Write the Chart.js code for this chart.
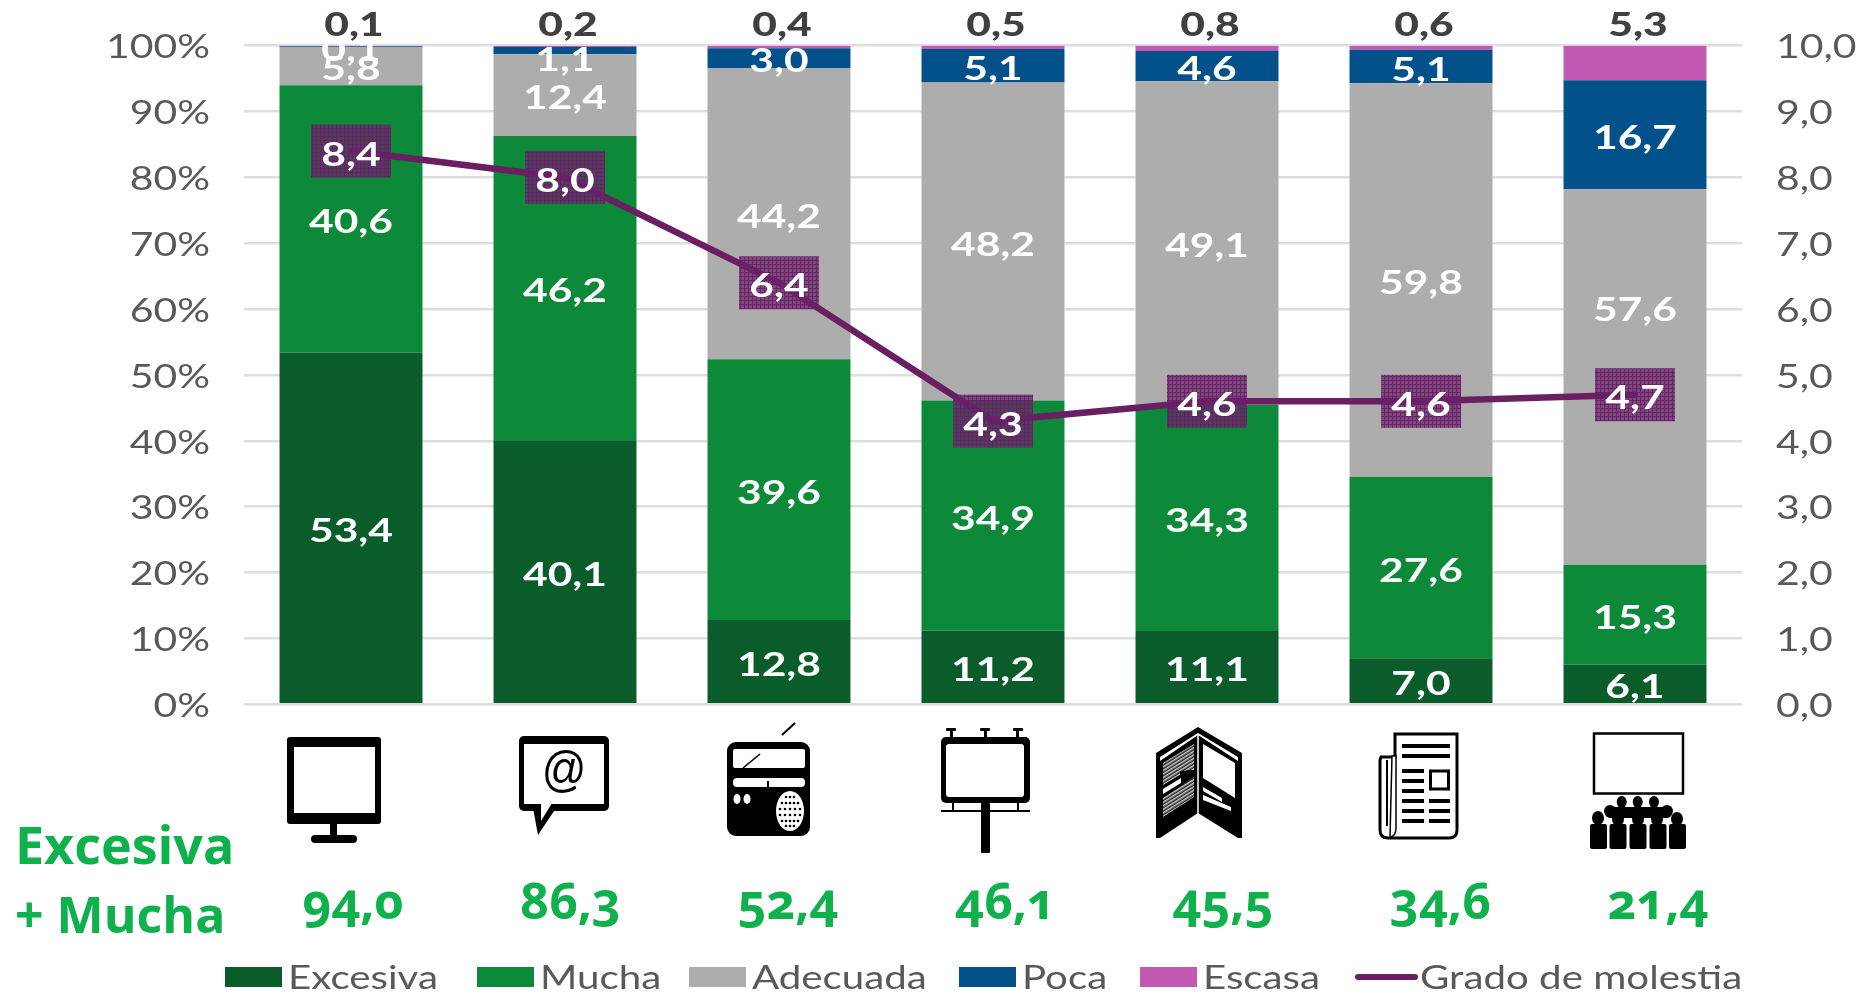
<!DOCTYPE html>
<html lang="es"><head><meta charset="utf-8">
<style>
html,body{margin:0;padding:0;background:#fff;width:1872px;height:995px;overflow:hidden}
#wrap{position:relative;width:1872px;height:995px}
canvas{position:absolute;left:0;top:0}
svg{position:absolute;left:0;top:0}
.g{position:absolute;color:#0fb14d;font-family:"Open Sans";font-weight:700;white-space:nowrap;transform-origin:0 0}
.v{font-size:50px;font-feature-settings:"onum" 1;font-variant-numeric:oldstyle-nums;text-align:center;width:160px;transform-origin:50% 0}
</style></head><body>
<div id="wrap">
<canvas id="c" width="1872" height="995"></canvas>
<svg width="1872" height="995" viewBox="0 0 1872 995">
 <!-- monitor -->
 <rect x="287" y="737" width="94" height="87" rx="3" fill="#000"/><rect x="294" y="747" width="81" height="66" fill="#fff"/>
 <rect x="330" y="823" width="7" height="13" fill="#000"/><rect x="311" y="835" width="46" height="8" rx="4" fill="#000"/>
 <!-- e-mail -->
 <rect x="519" y="736" width="90" height="75" rx="5" fill="#000"/><rect x="524" y="744" width="80" height="60" fill="#fff"/>
 <path d="M533 808 L556 808 L538 835 Z" fill="#000"/><path d="M541 803 H552 L541 821 Z" fill="#fff"/>
 <text x="0" y="0" transform="translate(564 786) scale(1 1.15)" font-family="Liberation Sans" font-size="44" text-anchor="middle" fill="#000">@</text>
 <!-- radio -->
 <line x1="782" y1="735" x2="795" y2="723" stroke="#000" stroke-width="2"/>
 <rect x="727" y="742" width="83" height="94" rx="9" fill="#000"/>
 <rect x="733" y="749" width="72" height="19" rx="2" fill="#fff"/><line x1="743" y1="768" x2="760" y2="754" stroke="#000" stroke-width="1.5"/>
 <rect x="733" y="778" width="72" height="9" rx="4" fill="#fff"/><rect x="767" y="781" width="2" height="6" fill="#000"/>
 <ellipse cx="737" cy="799" rx="3.5" ry="5" fill="#fff"/><ellipse cx="747" cy="799" rx="3.5" ry="5" fill="#fff"/>
 <ellipse cx="790" cy="811" rx="14" ry="20" fill="#fff"/>
 <g fill="#000"><circle cx="786" cy="797" r="1.3"/><circle cx="790" cy="797" r="1.3"/><circle cx="794" cy="797" r="1.3"/>
 <circle cx="782" cy="803" r="1.3"/><circle cx="786" cy="803" r="1.3"/><circle cx="790" cy="803" r="1.3"/><circle cx="794" cy="803" r="1.3"/><circle cx="798" cy="803" r="1.3"/>
 <circle cx="780" cy="809" r="1.3"/><circle cx="785" cy="809" r="1.3"/><circle cx="790" cy="809" r="1.3"/><circle cx="795" cy="809" r="1.3"/><circle cx="800" cy="809" r="1.3"/>
 <circle cx="780" cy="815" r="1.3"/><circle cx="785" cy="815" r="1.3"/><circle cx="790" cy="815" r="1.3"/><circle cx="795" cy="815" r="1.3"/><circle cx="800" cy="815" r="1.3"/>
 <circle cx="782" cy="821" r="1.3"/><circle cx="786" cy="821" r="1.3"/><circle cx="790" cy="821" r="1.3"/><circle cx="794" cy="821" r="1.3"/><circle cx="798" cy="821" r="1.3"/>
 <circle cx="786" cy="826" r="1.3"/><circle cx="790" cy="826" r="1.3"/><circle cx="794" cy="826" r="1.3"/></g>
 <!-- billboard -->
 <g fill="#000"><rect x="946" y="728" width="10" height="3" rx="1"/><rect x="980" y="728" width="10" height="3" rx="1"/><rect x="1013" y="728" width="10" height="3" rx="1"/>
 <rect x="950" y="730" width="3" height="8"/><rect x="984" y="730" width="3" height="8"/><rect x="1016" y="730" width="3" height="8"/>
 <rect x="941" y="737" width="89" height="66" rx="5"/><rect x="981" y="803" width="9" height="50" rx="1"/><rect x="941" y="810" width="89" height="2"/>
 <rect x="952" y="803" width="2" height="8"/><rect x="1017" y="803" width="2" height="8"/></g>
 <rect x="946" y="744" width="78" height="53" rx="3" fill="#fff"/>
 <!-- leaflet -->
 <defs><pattern id="h" width="3" height="3" patternUnits="userSpaceOnUse" patternTransform="rotate(-32)"><rect width="3" height="3" fill="#222"/><rect width="3" height="1.5" fill="#ccc"/></pattern></defs>
 <path d="M1198 727 L1242 753 V838 L1238 838 V757 L1198 733 L1160 757 V838 H1156 V753 Z" fill="#000"/>
 <path d="M1160 761 L1198 735 L1238 761 V838 L1198 813 L1160 838 Z" fill="#000"/>
 <line x1="1198" y1="734" x2="1198" y2="815" stroke="#fff" stroke-width="1.5"/>
 <path d="M1163 763 L1194 744 V770 L1180 771 V775 L1163 785 Z" fill="url(#h)"/>
 <path d="M1163 789 L1181 778 V783 L1163 794 Z" fill="#fff"/>
 <path d="M1163 798 L1194 777 V797 L1163 817 Z" fill="url(#h)"/>
 <path d="M1203 744 L1235 763 V798 L1203 778 Z" fill="#fff"/>
 <path d="M1203 787 L1222 798 V802 L1203 791 Z M1203 795 L1231 807 V811 L1203 800 Z" fill="#fff"/>
 <!-- newspaper -->
 <path d="M1381 757 H1395 V734 H1457 V830 Q1457 838 1449 838 H1388 Q1380 838 1380 830 V760 Z" fill="#fff" stroke="#000" stroke-width="3"/>
 <line x1="1387" y1="760" x2="1387" y2="826" stroke="#000" stroke-width="2"/><path d="M1392 756 H1396 V828 Q1396 836 1390 837 Z" fill="#fff" stroke="#000" stroke-width="1.5"/>
 <g fill="#000"><rect x="1402" y="744" width="48" height="4"/><rect x="1402" y="754" width="48" height="4"/>
 <rect x="1402" y="769" width="22" height="4"/><rect x="1402" y="779" width="22" height="4"/><rect x="1402" y="789" width="22" height="4"/>
 <rect x="1402" y="799" width="22" height="4"/><rect x="1402" y="809" width="22" height="4"/><rect x="1402" y="819" width="22" height="4"/>
 <rect x="1429" y="799" width="21" height="4"/><rect x="1429" y="809" width="21" height="4"/><rect x="1429" y="819" width="21" height="4"/></g>
 <rect x="1430.5" y="771" width="18" height="18" fill="none" stroke="#000" stroke-width="3"/>
 <!-- cinema -->
 <rect x="1594" y="733.5" width="89" height="60" fill="#fff" stroke="#000" stroke-width="2.5"/>
 <g fill="#000"><ellipse cx="1621.7" cy="802" rx="5" ry="6"/><ellipse cx="1637.7" cy="802" rx="5" ry="6"/><ellipse cx="1654" cy="802" rx="5" ry="6"/>
 <rect x="1605" y="807" width="67" height="11" rx="5"/><ellipse cx="1610" cy="811" rx="6" ry="6"/><ellipse cx="1667" cy="811" rx="6" ry="6"/>
 <ellipse cx="1598" cy="818" rx="6" ry="7"/><ellipse cx="1618" cy="819" rx="6" ry="7"/><ellipse cx="1638" cy="819" rx="6" ry="7"/><ellipse cx="1657" cy="819" rx="6" ry="7"/><ellipse cx="1677" cy="819" rx="6" ry="7"/>
 <rect x="1590" y="824" width="17" height="25" rx="2"/><rect x="1609.5" y="824" width="17" height="25" rx="2"/><rect x="1629.5" y="824" width="17" height="25" rx="2"/><rect x="1649.5" y="824" width="17" height="25" rx="2"/><rect x="1669" y="824" width="17" height="25" rx="2"/></g>
</svg>
<div class="g" style="left:15px;top:808px;font-size:52px;line-height:72px">Excesiva</div>
<div class="g" style="left:15px;top:878px;font-size:50px;line-height:72px">+ Mucha</div>
<div id="vals"></div>
</div>
<script src="https://cdn.jsdelivr.net/npm/chart.js@4"></script>
<script>
const categories = ["Televisión","Internet","Radio","Vallas","Folletos","Prensa","Cine"];
const excesiva = [53.4,40.1,12.8,11.2,11.1,7.0,6.1];
const mucha    = [40.6,46.2,39.6,34.9,34.3,27.6,15.3];
const adecuada = [5.8,12.4,44.2,48.2,49.1,59.8,57.6];
const poca     = [0.1,1.1,3.0,5.1,4.6,5.1,16.7];
const escasa   = [0.1,0.2,0.4,0.5,0.8,0.6,5.3];
const grado    = [8.4,8.0,6.4,4.3,4.6,4.6,4.7];
const excesivaMucha = [94.0,86.3,52.4,46.1,45.5,34.6,21.4];
const leftTicks = [0,10,20,30,40,50,60,70,80,90,100];

const comma = v => v.toFixed(1).replace('.',',');
const totals = categories.map((_,i)=>excesiva[i]+mucha[i]+adecuada[i]+poca[i]+escasa[i]);
const pct = arr => arr.map((v,i)=>v/totals[i]*100);

// green totals under the icons
const vals=document.getElementById('vals');
excesivaMucha.forEach((v,i)=>{
  const d=document.createElement('div');d.className='g v';d.textContent=comma(v);
  d.style.left=(353+217.5*i-80)+'px';d.style.top='866px';vals.appendChild(d);
});

const canvas=document.getElementById('c');
const ctx=canvas.getContext('2d');
// source image text is horizontally stretched
let stretch=1.24;
const rawFill=ctx.fillText.bind(ctx);
ctx.fillText=function(t,x,y){ctx.save();ctx.translate(x,y);ctx.scale(stretch,1);rawFill(t,0,0);ctx.restore();};

const FONT='Lato';
const TXT='#595959';
const hatch=(()=>{const p=document.createElement('canvas');p.width=p.height=4;const c=p.getContext('2d');
  c.fillStyle='rgba(95,40,100,0.72)';c.fillRect(0,0,4,4);
  c.fillStyle='rgba(115,25,110,0.9)';c.fillRect(0,0,4,1);c.fillRect(0,0,1,4);return ctx.createPattern(p,'repeat');})();

const legendItems=[
 {x:225,k:'box'},{x:477,k:'box'},{x:689,k:'box'},{x:959,k:'box'},{x:1140,k:'box'},{x:1355,k:'line'}];

const labelsPlugin={id:'labels',
 afterDatasetsDraw(ch){
  const c=ch.ctx;c.save();c.textAlign='center';c.textBaseline='middle';
  stretch=1.29;
  const lm=ch.getDatasetMeta(5);
  lm.data.forEach(pt=>{c.fillStyle=hatch;c.fillRect(pt.x-40,pt.y-26.5,80,53);});
  c.font='700 33px '+FONT;c.fillStyle='#fff';
  [excesiva,mucha,adecuada,poca].forEach((arr,d)=>{
    ch.getDatasetMeta(d).data.forEach((el,i)=>{
      let nudge=3.5;
      if(d===3&&i===1) nudge=9.5;      // label pushed below its thin segment
      if(d===2&&i===6) nudge=-67;      // label moved above the line box
      c.fillText(comma(arr[i]),el.x,(el.y+el.base)/2+nudge);
    });
  });
  lm.data.forEach((pt,i)=>c.fillText(comma(grado[i]),pt.x,pt.y+4));
  c.font='900 33px '+FONT;c.fillStyle='#404040';
  ch.getDatasetMeta(4).data.forEach((el,i)=>c.fillText(comma(escasa[i]),el.x+3,25));
  c.restore();stretch=1.24;
 },
 afterDraw(ch){
  const c=ch.ctx;c.save();c.font='400 33px '+FONT;c.textAlign='left';c.textBaseline='middle';
  stretch=1.22;
  ch.data.datasets.forEach((ds,i)=>{
    const it=legendItems[i];
    if(it.k==='box'){c.fillStyle=ds.backgroundColor;c.fillRect(it.x,967,57,20);}
    else{c.strokeStyle=ds.borderColor;c.lineWidth=6;c.lineCap='round';c.beginPath();c.moveTo(it.x+3,977);c.lineTo(it.x+60,977);c.stroke();}
    c.fillStyle=TXT;c.fillText(ds.label,it.x+(it.k==='box'?63:65),978);
  });
  c.restore();stretch=1.24;
 }};

const noScalePad=s=>{s.paddingTop=0;s.paddingBottom=0;};
const bar=(label,data,color)=>({type:'bar',label,data:pct(data),backgroundColor:color,yAxisID:'y',order:2,barPercentage:0.668,categoryPercentage:1});
new Chart(ctx,{
 data:{labels:categories,datasets:[
  bar('Excesiva',excesiva,'#0a5c2a'),
  bar('Mucha',mucha,'#0c8939'),
  bar('Adecuada',adecuada,'#adadad'),
  bar('Poca',poca,'#03518a'),
  bar('Escasa',escasa,'#c459b4'),
  {type:'line',label:'Grado de molestia',data:grado,borderColor:'#6a1f62',backgroundColor:'#6a1f62',borderWidth:6.5,pointRadius:0,yAxisID:'y1',order:1,tension:0,borderCapStyle:'round'}
 ]},
 options:{responsive:false,animation:false,
  layout:{padding:{top:45.7,bottom:290.7,left:0,right:0}},
  plugins:{legend:{display:false},tooltip:{enabled:false}},
  scales:{
   x:{stacked:true,display:false,grid:{display:false},offset:true},
   y:{stacked:true,min:0,max:100,position:'left',afterFit(s){s.width=244;noScalePad(s);},afterBuildTicks(s){s.ticks=leftTicks.map(value=>({value}));},
      grid:{color:'#dedede',lineWidth:2.5,drawTicks:false},border:{display:false},
      ticks:{padding:34,labelOffset:2,color:TXT,font:{family:FONT,size:33},callback:v=>v+'%'}},
   y1:{min:0,max:10,position:'right',afterFit(s){s.width=130;noScalePad(s);},grid:{display:false,drawTicks:false},border:{display:false},
      ticks:{padding:34,labelOffset:2,stepSize:1,color:TXT,font:{family:FONT,size:33},callback:v=>comma(v)}}
  }},
 plugins:[labelsPlugin]
});
</script>
</body></html>
